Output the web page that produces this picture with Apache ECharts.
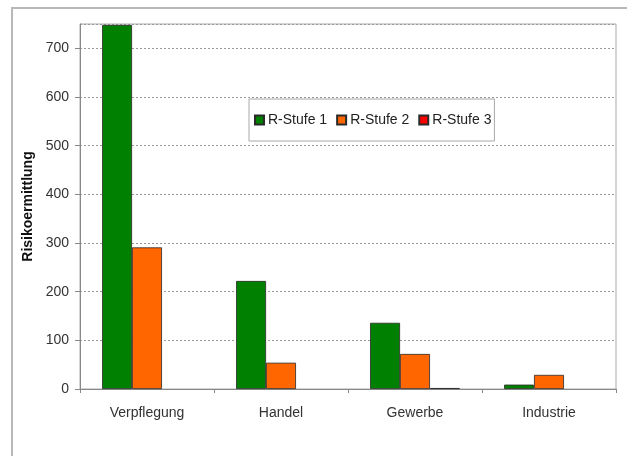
<!DOCTYPE html>
<html>
<head>
<meta charset="utf-8">
<script src="https://cdn.jsdelivr.net/npm/echarts@6/dist/echarts.min.js"></script>
<style>
  html, body { margin: 0; padding: 0; background: #fff; }
  #chart { width: 627px; height: 456px; }
</style>
</head>
<body>
<div id="chart"></div>
<script>
// Risk assessment counts per sector, split by risk level
const categories = ['Verpflegung', 'Handel', 'Gewerbe', 'Industrie'];
const seriesNames = ['R-Stufe 1', 'R-Stufe 2', 'R-Stufe 3'];
const stufe1 = [748, 222, 136, 9];
const stufe2 = [291, 54, 72, 29];
const stufe3 = [0, 0, 2, 0];
const yAxisTitle = 'Risikoermittlung';

const colors = ['#008000', '#ff6600', '#ff0000'];
const font = '"Liberation Sans", Arial, sans-serif';

const chart = echarts.init(document.getElementById('chart'), null, { renderer: 'canvas' });

// zero-valued bars get no outline so they stay invisible
const toBarData = (values) => values.map(v => (
  v === 0 ? { value: v, itemStyle: { borderWidth: 0 } } : v
));

const makeSeries = (name, values, color) => ({
  name,
  type: 'bar',
  data: toBarData(values),
  itemStyle: { color, borderColor: '#2a2a2a', borderWidth: 0.8 },
  barGap: '0%',
  barCategoryGap: '33%'
});

chart.setOption({
  animation: false,
  backgroundColor: '#ffffff',
  graphic: [
    {
      type: 'rect',
      shape: { x: 12, y: 8, width: 700, height: 500 },
      style: { fill: 'none', stroke: '#b8b8b8', lineWidth: 2 },
      z: -10
    }
  ],
  grid: {
    left: 80, top: 24, right: 11, bottom: 67,
    show: true, borderColor: '#a8a8a8', borderWidth: 1
  },
  legend: {
    data: seriesNames,
    left: 249, top: 99,
    padding: [14, 3, 14, 5],
    itemWidth: 9, itemHeight: 9, itemGap: 9,
    backgroundColor: '#fff',
    borderColor: '#a8a8a8', borderWidth: 1,
    icon: 'rect',
    textStyle: { fontFamily: font, fontSize: 14, color: '#222', padding: [0, 0, 0, -1] }
  },
  xAxis: {
    type: 'category',
    data: categories,
    axisLine: { lineStyle: { color: '#888', width: 1 } },
    axisTick: { show: true, length: 4, lineStyle: { color: '#888' } },
    axisLabel: { fontFamily: font, fontSize: 14, color: '#333', margin: 17 },
    splitLine: { show: false }
  },
  yAxis: {
    type: 'value',
    min: 0, max: 750, interval: 100,
    name: yAxisTitle,
    nameLocation: 'middle',
    nameGap: 45,
    nameTextStyle: { fontFamily: font, fontSize: 14, fontWeight: 'bold', color: '#111' },
    axisLine: { show: true, lineStyle: { color: '#888', width: 1 } },
    axisTick: { show: true, length: 5, lineStyle: { color: '#888' } },
    axisLabel: { fontFamily: font, fontSize: 14, color: '#333', margin: 11, showMaxLabel: false },
    splitLine: { show: true, lineStyle: { color: '#999', type: [2, 2], width: 1 } }
  },
  series: [
    makeSeries(seriesNames[0], stufe1, colors[0]),
    makeSeries(seriesNames[1], stufe2, colors[1]),
    makeSeries(seriesNames[2], stufe3, colors[2])
  ]
});
</script>
</body>
</html>
